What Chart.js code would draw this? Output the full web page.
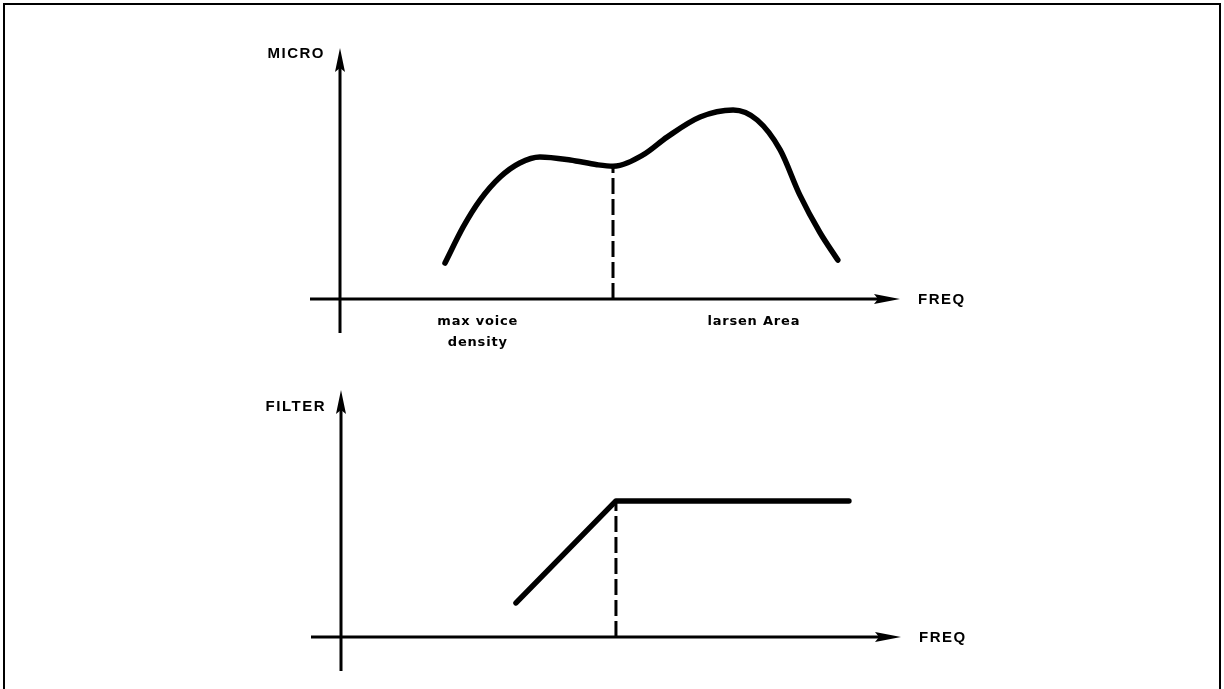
<!DOCTYPE html>
<html>
<head>
<meta charset="utf-8">
<script src="https://cdn.jsdelivr.net/npm/chart.js@4"></script>
<style>
  body { margin: 0; background: #fff; }
  #page { position: relative; width: 1224px; height: 689px; overflow: hidden; }
  #frame { position: absolute; left: 3px; top: 3px; width: 1214px; height: 700px; border: 2px solid #000; border-bottom: none; }
  .panel { position: absolute; left: 0; width: 1224px; }
</style>
</head>
<body>
<div id="page">
  <div id="frame"></div>
  <div class="panel" style="top:0;height:370px"><canvas id="microChart"></canvas></div>
  <div class="panel" style="top:370px;height:319px"><canvas id="filterChart"></canvas></div>
</div>
<script>
// Microphone response (arbitrary units)
const microFreq = [18.75, 22.0, 25.0, 28.6, 32.1, 35.7, 41.1, 45.9, 48.75, 54.1, 58.4, 64.3, 70.2, 74.5, 78.6, 82.1, 85.7, 88.9];
const microLevel = [14.3, 28.7, 39.4, 48.6, 54.2, 56.6, 55.4, 53.5, 52.9, 57.4, 64.5, 72.5, 75.3, 71.3, 59.4, 41.5, 26.5, 15.5];
const microCutFreq = [48.75, 48.75];
const microCutLevel = [0, 52.9];

// Filter response
const filterFreq = [31.25, 49.1, 90.7];
const filterLevel = [13.8, 55.1, 55.1];
const filterCutFreq = [49.1, 49.1];
const filterCutLevel = [0, 55.1];

// Labels
const axisX = "FREQ";
const microTitle = "MICRO";
const filterTitle = "FILTER";
const noteLabels = [["max voice", "density"], ["larsen Area"]];
const noteFreq = [24.6, 73.9];

const toPoints = (xs, ys) => xs.map((x, i) => ({ x: x, y: ys[i] }));

// draws the hand-made axes with arrows + labels
const sketchAxes = {
  id: 'sketchAxes',
  afterDraw(chart, args, opts) {
    const ctx = chart.ctx;
    const xs = chart.scales.x, ys = chart.scales.y;
    const x0 = xs.getPixelForValue(0), x1 = xs.getPixelForValue(100);
    const y0 = ys.getPixelForValue(0), y1 = ys.getPixelForValue(100);
    ctx.save();
    ctx.strokeStyle = '#000';
    ctx.fillStyle = '#000';
    ctx.lineWidth = 3;
    // x axis
    ctx.beginPath();
    ctx.moveTo(x0 - 30, y0);
    ctx.lineTo(x1 - 18, y0);
    ctx.stroke();
    ctx.beginPath();
    ctx.moveTo(x1, y0);
    ctx.lineTo(x1 - 26, y0 - 5);
    ctx.lineTo(x1 - 22, y0);
    ctx.lineTo(x1 - 26, y0 + 5);
    ctx.closePath();
    ctx.fill();
    // y axis
    ctx.beginPath();
    ctx.moveTo(x0, y0 + 34);
    ctx.lineTo(x0, y1 + 18);
    ctx.stroke();
    ctx.beginPath();
    ctx.moveTo(x0, y1);
    ctx.lineTo(x0 - 5, y1 + 24);
    ctx.lineTo(x0, y1 + 20);
    ctx.lineTo(x0 + 5, y1 + 24);
    ctx.closePath();
    ctx.fill();
    // labels
    ctx.font = 'bold 15px "Liberation Sans", Arial, sans-serif';
    ctx.letterSpacing = '1.5px';
    ctx.textBaseline = 'middle';
    ctx.textAlign = 'left';
    ctx.fillText(axisX, x1 + 18, y0 + 1);
    ctx.textAlign = 'right';
    ctx.fillText(opts.title, x0 - 15, y1 + opts.titleDy);
    if (opts.notes) {
      ctx.font = 'bold 13px "DejaVu Sans", sans-serif';
      ctx.letterSpacing = '0.8px';
      ctx.textAlign = 'center';
      opts.notes.forEach((lines, i) => {
        const px = xs.getPixelForValue(noteFreq[i]);
        lines.forEach((t, j) => ctx.fillText(t, px, y0 + 23 + j * 21));
      });
    }
    ctx.restore();
  }
};

function makeChart(id, curve, cut, smooth, opts, pad) {
  return new Chart(document.getElementById(id), {
    type: 'line',
    data: {
      datasets: [
        {
          data: curve,
          borderColor: '#000',
          borderWidth: 5.5,
          borderCapStyle: 'round',
          borderJoinStyle: 'round',
          cubicInterpolationMode: smooth ? 'monotone' : 'default',
          tension: 0,
          pointRadius: 0,
          fill: false,
          clip: false
        },
        {
          data: cut,
          borderColor: '#000',
          borderWidth: 3,
          borderDash: [16, 5],
          pointRadius: 0,
          fill: false,
          clip: false
        }
      ]
    },
    options: {
      responsive: true,
      maintainAspectRatio: false,
      animation: false,
      layout: { padding: pad },
      scales: {
        x: { type: 'linear', min: 0, max: 100, display: false },
        y: { type: 'linear', min: 0, max: 100, display: false }
      },
      plugins: {
        legend: { display: false },
        tooltip: { enabled: false },
        sketchAxes: opts
      }
    },
    plugins: [sketchAxes]
  });
}

makeChart('microChart',
  toPoints(microFreq, microLevel),
  toPoints(microCutFreq, microCutLevel),
  true,
  { title: microTitle, titleDy: 6, notes: noteLabels },
  { left: 340, right: 324, top: 48, bottom: 71 });

makeChart('filterChart',
  toPoints(filterFreq, filterLevel),
  toPoints(filterCutFreq, filterCutLevel),
  false,
  { title: filterTitle, titleDy: 17, notes: null },
  { left: 341, right: 323, top: 20, bottom: 52 });
</script>
</body>
</html>
